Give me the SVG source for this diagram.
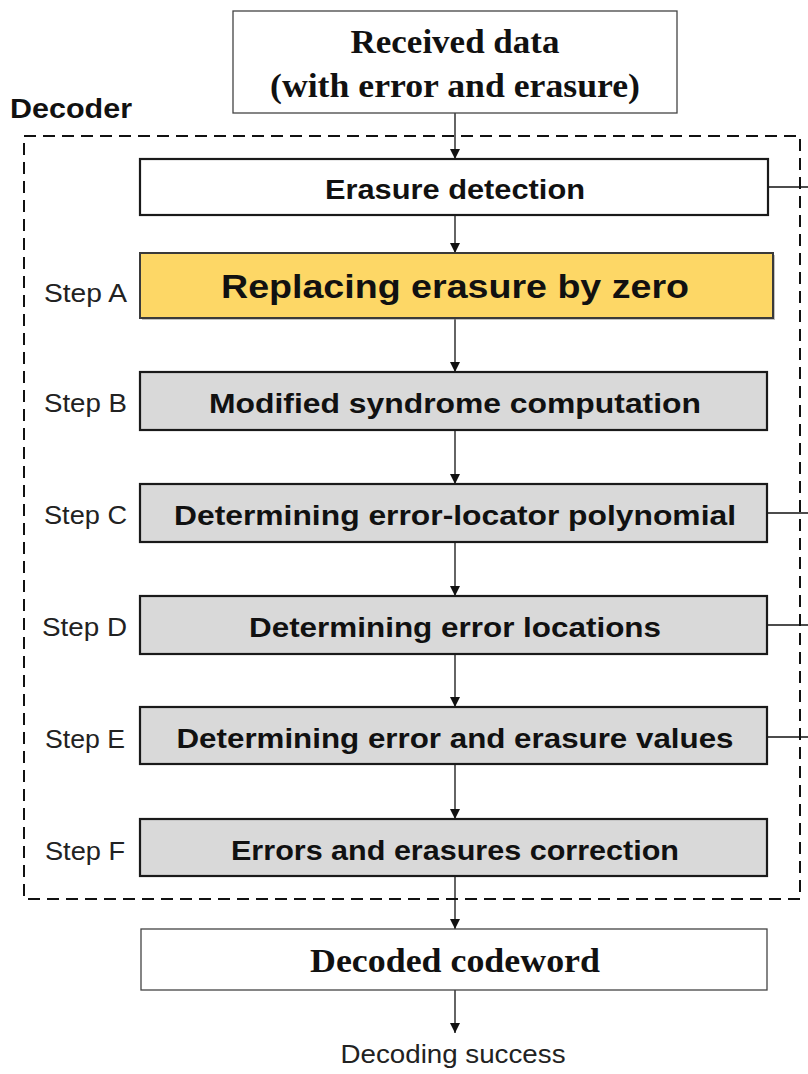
<svg xmlns="http://www.w3.org/2000/svg" width="808" height="1074" viewBox="0 0 808 1074">
<defs>
<marker id="ah" viewBox="0 0 10 10" refX="10" refY="5" markerWidth="10" markerHeight="10" markerUnits="userSpaceOnUse" orient="auto"><path d="M0,0 L10,5 L0,10 z" fill="#111"/></marker>
<style>
.io{fill:#fff;stroke:#444;stroke-width:1.3}
.step{fill:#d9d9d9;stroke:#1a1a1a;stroke-width:2.2}
.ed{fill:#fff;stroke:#1a1a1a;stroke-width:2.2}
.ya{fill:#fdd766;stroke:#3a3a3a;stroke-width:2}
.bt{font-family:"Liberation Sans",Arial,sans-serif;font-weight:bold;font-size:28px;fill:#111;text-anchor:middle}
.sl{font-family:"Liberation Sans",Arial,sans-serif;font-size:26px;fill:#222;text-anchor:end}
.st{font-family:"Liberation Serif","Times New Roman",serif;font-weight:bold;font-size:33px;fill:#111;text-anchor:middle}
.cn{stroke:#111;stroke-width:1.3;fill:none}
</style>
</defs>
<rect id="decoder-frame" x="24" y="136" width="776" height="763" fill="none" stroke="#111" stroke-width="2" stroke-dasharray="12 7"/>
<text id="decoder-label" x="10" y="118" font-family="Liberation Sans,Arial,sans-serif" font-weight="bold" font-size="28" fill="#111" textLength="122" lengthAdjust="spacingAndGlyphs">Decoder</text>
<g id="connectors">
<line class="cn" x1="455" y1="113" x2="455" y2="159" marker-end="url(#ah)"/>
<line class="cn" x1="455" y1="216" x2="455" y2="253" marker-end="url(#ah)"/>
<line class="cn" x1="455" y1="318" x2="455" y2="372" marker-end="url(#ah)"/>
<line class="cn" x1="455" y1="430" x2="455" y2="484" marker-end="url(#ah)"/>
<line class="cn" x1="455" y1="542" x2="455" y2="596" marker-end="url(#ah)"/>
<line class="cn" x1="455" y1="654" x2="455" y2="707" marker-end="url(#ah)"/>
<line class="cn" x1="455" y1="765" x2="455" y2="819" marker-end="url(#ah)"/>
<line class="cn" x1="455" y1="876" x2="455" y2="929" marker-end="url(#ah)"/>
<line class="cn" x1="455" y1="990" x2="455" y2="1033" marker-end="url(#ah)"/>
<line class="cn" x1="768" y1="187" x2="808" y2="187"/>
<line class="cn" x1="767" y1="513" x2="808" y2="513"/>
<line class="cn" x1="767" y1="625" x2="808" y2="625"/>
<line class="cn" x1="767" y1="737" x2="808" y2="737"/>
</g>
<g id="received">
<rect class="io" x="233" y="11" width="444" height="102"/>
<text class="st" x="455" y="53" textLength="209" lengthAdjust="spacingAndGlyphs">Received data</text>
<text class="st" x="455" y="97" textLength="370" lengthAdjust="spacingAndGlyphs">(with error and erasure)</text>
</g>
<g id="erasure-detection">
<rect class="ed" x="140" y="159" width="628" height="56"/>
<text class="bt" x="455" y="199" textLength="260" lengthAdjust="spacingAndGlyphs">Erasure detection</text>
</g>
<g id="step-a">
<rect x="142" y="255" width="633" height="65" fill="#888" opacity="0.5"/>
<rect class="ya" x="140" y="253" width="633" height="65"/>
<text x="455" y="298" font-family="Liberation Sans,Arial,sans-serif" font-weight="bold" font-size="34" fill="#111" text-anchor="middle" textLength="468" lengthAdjust="spacingAndGlyphs">Replacing erasure by zero</text>
<text class="sl" x="127" y="302" textLength="83" lengthAdjust="spacingAndGlyphs">Step A</text>
</g>
<g id="step-b">
<rect class="step" x="140" y="372" width="627" height="58"/>
<text class="bt" x="455" y="413" textLength="492" lengthAdjust="spacingAndGlyphs">Modified syndrome computation</text>
<text class="sl" x="127" y="412" textLength="83" lengthAdjust="spacingAndGlyphs">Step B</text>
</g>
<g id="step-c">
<rect class="step" x="140" y="484" width="627" height="58"/>
<text class="bt" x="455" y="525" textLength="562" lengthAdjust="spacingAndGlyphs">Determining error-locator polynomial</text>
<text class="sl" x="127" y="524" textLength="83" lengthAdjust="spacingAndGlyphs">Step C</text>
</g>
<g id="step-d">
<rect class="step" x="140" y="596" width="627" height="58"/>
<text class="bt" x="455" y="637" textLength="412" lengthAdjust="spacingAndGlyphs">Determining error locations</text>
<text class="sl" x="127" y="636" textLength="85" lengthAdjust="spacingAndGlyphs">Step D</text>
</g>
<g id="step-e">
<rect class="step" x="140" y="707" width="627" height="57"/>
<text class="bt" x="455" y="748" textLength="557" lengthAdjust="spacingAndGlyphs">Determining error and erasure values</text>
<text class="sl" x="125" y="748" textLength="80" lengthAdjust="spacingAndGlyphs">Step E</text>
</g>
<g id="step-f">
<rect class="step" x="140" y="819" width="627" height="57"/>
<text class="bt" x="455" y="860" textLength="448" lengthAdjust="spacingAndGlyphs">Errors and erasures correction</text>
<text class="sl" x="125" y="860" textLength="80" lengthAdjust="spacingAndGlyphs">Step F</text>
</g>
<g id="decoded">
<rect class="io" x="141" y="929" width="626" height="61"/>
<text class="st" x="455" y="972" textLength="290" lengthAdjust="spacingAndGlyphs">Decoded codeword</text>
</g>
<g id="success">
<text x="453" y="1063" font-family="Liberation Sans,Arial,sans-serif" font-size="25" fill="#222" text-anchor="middle" textLength="225" lengthAdjust="spacingAndGlyphs">Decoding success</text>
</g>
</svg>
